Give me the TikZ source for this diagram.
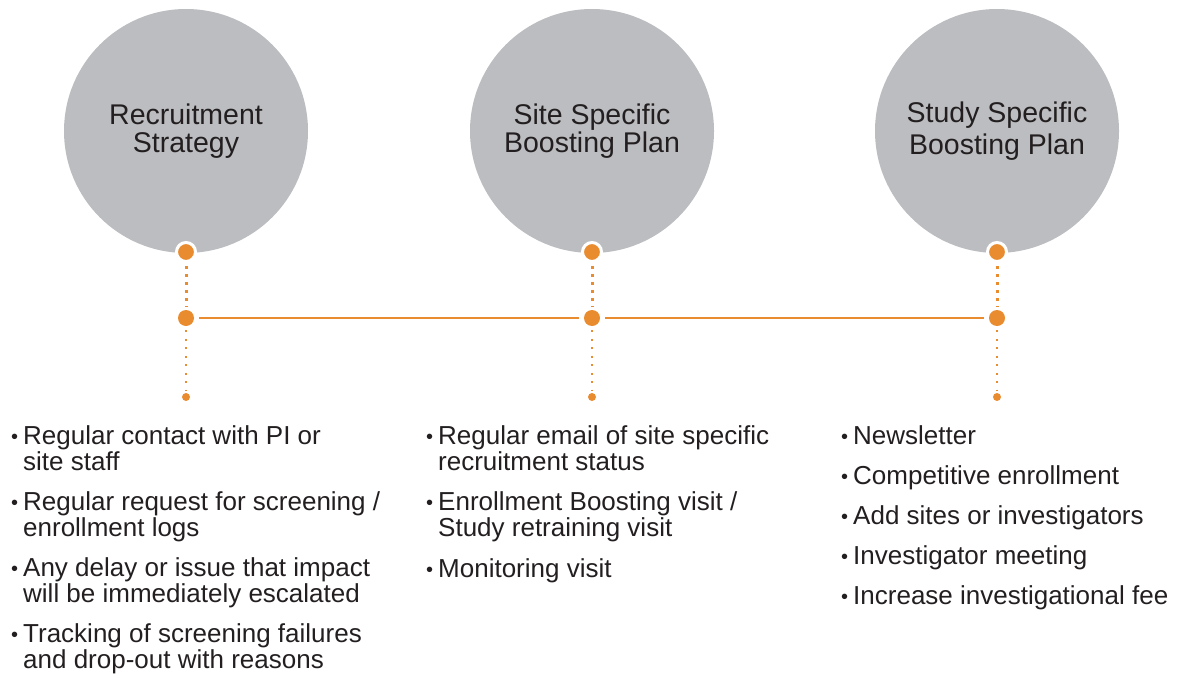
\documentclass[tikz,border=0pt]{standalone}
\usepackage{fontspec}
\setmainfont{Liberation Sans}
\definecolor{orng}{HTML}{E98C2F}
\definecolor{greyc}{HTML}{BCBDC0}
\definecolor{txt}{HTML}{231F20}
\newcommand{\bul}{\llap{{\fontsize{20}{20}\selectfont\raisebox{0.5pt}{\textbullet}}\hspace{5pt}}}
\begin{document}
\begin{tikzpicture}[x=1pt,y=-1pt,
  bigcirc/.style={circle,fill=greyc,minimum size=244pt,inner sep=0pt,align=center,text=txt,
     font=\fontsize{28.5}{28.5}\selectfont},
  topdot/.style={circle,fill=orng,draw=white,line width=3pt,minimum size=19pt,inner sep=0pt},
  middot/.style={circle,fill=orng,minimum size=16pt,inner sep=0pt},
  botdot/.style={circle,fill=orng,minimum size=8pt,inner sep=0pt},
  updots/.style={draw=orng,line width=3pt,dash pattern=on 3pt off 5pt,shorten <=3pt,shorten >=3pt},
  lowdots/.style={draw=orng,line width=2pt,dash pattern=on 2pt off 6.5pt,shorten <=4pt,shorten >=2pt},
  hline/.style={draw=orng,line width=2pt,shorten <=5pt,shorten >=5pt},
  item/.style={anchor=base west,align=left,inner sep=0pt,text=txt,font=\fontsize{26}{26}\selectfont}]
\useasboundingbox (0,0) rectangle (1177,677);

\node[bigcirc] (c1) at (186,131) {Recruitment\\Strategy};
\node[bigcirc] (c2) at (592,131) {Site Specific\\Boosting Plan};
\node[bigcirc,font=\fontsize{28.5}{32}\selectfont] (c3) at (997,131) {Study Specific\\Boosting Plan};

\foreach \i/\x in {1/186,2/592,3/997}{
  \node[topdot] (t\i) at (\x,252) {};
  \node[middot] (m\i) at (\x,318) {};
  \node[botdot] (b\i) at (\x,397) {};
  \draw[updots] (t\i) -- (m\i);
  \draw[lowdots] (m\i) -- (b\i);
}
\draw[hline] (m1) -- (m2);
\draw[hline] (m2) -- (m3);

% left column (anchor = baseline of last line)
\node[item] (l1) at (23,470) {\bul Regular contact with PI or\\site staff};
\node[item] (l2) at (23,536) {\bul Regular request for screening /\\enrollment logs};
\node[item] (l3) at (23,602) {\bul Any delay or issue that impact\\will be immediately escalated};
\node[item] (l4) at (23,668) {\bul Tracking of screening failures\\and drop-out with reasons};

% middle column
\node[item] (n1) at (438,470) {\bul Regular email of site specific\\recruitment status};
\node[item] (n2) at (438,536) {\bul Enrollment Boosting visit /\\Study retraining visit};
\node[item] (n3) at (438,577) {\bul Monitoring visit};

% right column
\node[item] (r1) at (853,444) {\bul Newsletter};
\node[item] (r2) at (853,484) {\bul Competitive enrollment};
\node[item] (r3) at (853,524) {\bul Add sites or investigators};
\node[item] (r4) at (853,564) {\bul Investigator meeting};
\node[item] (r5) at (853,604) {\bul Increase investigational fee};
\end{tikzpicture}
\end{document}
